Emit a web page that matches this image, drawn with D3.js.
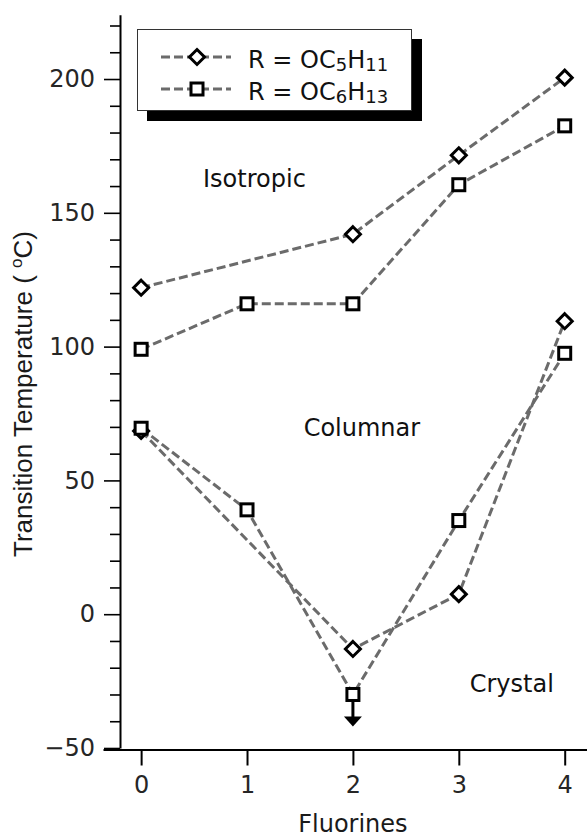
<!DOCTYPE html>
<html><head><meta charset="utf-8">
<script src="https://cdn.jsdelivr.net/npm/d3@7"></script>
<style>body{margin:0;background:#fff;} svg{display:block;}</style>
</head><body>
<script>
// ---- data ----
const fluorinesC5 = [0, 2, 3, 4];
const fluorinesC6 = [0, 1, 2, 3, 4];
const c5Clearing = [122, 142, 171.5, 200.5];
const c5Melting  = [68.5, -13, 7.5, 109.5];
const c6Clearing = [99, 116, 116, 160.5, 182.5];
const c6Melting  = [69.5, 39, -30, 35, 97.5];
const xTicks = [0, 1, 2, 3, 4];
const yMajor = [-50, 0, 50, 100, 150, 200];
const yMinor = [-40,-30,-20,-10,10,20,30,40,60,70,80,90,110,120,130,140,160,170,180,190,210,220];
const regionLabels = [
  {text: "Isotropic", x: 1.07, y: 159.5},
  {text: "Columnar",  x: 2.085, y: 66.5},
  {text: "Crystal",   x: 3.5,  y: -29}
];
const legendItems = [
  {shape: "diamond", main: "R = OC", s1: "5", h: "H", s2: "11"},
  {shape: "square",  main: "R = OC", s1: "6", h: "H", s2: "13"}
];

const W = 587, H = 837;
const svg = d3.select("body").append("svg").attr("width", W).attr("height", H);

const x = d3.scaleLinear().domain([-0.36, 4.22]).range([103, 588]);
const y = d3.scaleLinear().domain([-50, 224]).range([748, 14.8]);
const font = "DejaVu Sans, sans-serif";
const lineColor = "#6b6b6b";

// y axis
const yAx = svg.append("g").attr("transform", "translate(120,0)");
yAx.call(d3.axisLeft(y).tickValues(yMajor).tickSize(16).tickSizeOuter(0).tickPadding(9)
  .tickFormat(d => d < 0 ? "\u2212" + Math.abs(d) : d));
yAx.select(".domain").attr("stroke-width", 2).attr("stroke", "#000");
yAx.selectAll(".tick line").attr("stroke-width", 1.6).attr("stroke", "#000");
yAx.selectAll(".tick text").attr("font-family", font).attr("font-size", 24).attr("fill", "#262626");
const yAxMin = svg.append("g").attr("transform", "translate(120,0)");
yAxMin.call(d3.axisLeft(y).tickValues(yMinor).tickSize(10).tickSizeOuter(0).tickFormat(""));
yAxMin.select(".domain").remove();
yAxMin.selectAll(".tick line").attr("stroke-width", 1.6).attr("stroke", "#000");

// x axis
const xAx = svg.append("g").attr("transform", "translate(0,749.5)");
xAx.call(d3.axisBottom(x).tickValues(xTicks).tickSize(16).tickSizeOuter(0).tickPadding(10)
  .tickFormat(d3.format("d")));
xAx.select(".domain").attr("stroke-width", 2).attr("stroke", "#000");
xAx.selectAll(".tick line").attr("stroke-width", 2).attr("stroke", "#000");
xAx.selectAll(".tick text").attr("font-family", font).attr("font-size", 24).attr("fill", "#262626");

// axis labels
svg.append("text").attr("x", x(2)).attr("y", 832).attr("text-anchor", "middle")
  .attr("font-family", font).attr("font-size", 24).attr("fill", "#1a1a1a").text("Fluorines");
const yl = svg.append("text").attr("transform", "translate(32,394) rotate(-90)")
  .attr("text-anchor", "middle").attr("font-family", "Liberation Sans, Arial, sans-serif")
  .attr("font-size", 26).attr("fill", "#1a1a1a");
yl.append("tspan").text("Transition Temperature ( ");
yl.append("tspan").attr("font-size", 17).attr("dy", -10).text("o");
yl.append("tspan").attr("dy", 10).text("C)");

// region labels
regionLabels.forEach(r => {
  svg.append("text").attr("x", x(r.x)).attr("y", y(r.y)).attr("text-anchor", "middle")
    .attr("font-family", font).attr("font-size", 24).attr("fill", "#111").text(r.text);
});

// lines
const line = d3.line().x(d => x(d[0])).y(d => y(d[1]));
function series(xs, ys) { return xs.map((v, i) => [v, ys[i]]); }
const allSeries = [
  {pts: series(fluorinesC5, c5Clearing), shape: "diamond"},
  {pts: series(fluorinesC5, c5Melting),  shape: "diamond"},
  {pts: series(fluorinesC6, c6Clearing), shape: "square"},
  {pts: series(fluorinesC6, c6Melting),  shape: "square"}
];
allSeries.forEach(s => {
  svg.append("path").attr("d", line(s.pts)).attr("fill", "none")
    .attr("stroke", lineColor).attr("stroke-width", 3).attr("stroke-dasharray", "9,4");
});

// arrow below lowest C6 point (x=2)
const ax = x(2), ay = y(c6Melting[2]);
svg.append("line").attr("x1", ax).attr("x2", ax).attr("y1", ay + 6).attr("y2", ay + 24)
  .attr("stroke", "#000").attr("stroke-width", 3);
svg.append("path").attr("d", `M${ax-9},${ay+22} L${ax+9},${ay+22} L${ax},${ay+32} Z`).attr("fill", "#000");

// markers
function marker(g, shape, cx, cy) {
  if (shape === "diamond") {
    g.append("path").attr("d", `M${cx},${cy-7.5} L${cx+7.5},${cy} L${cx},${cy+7.5} L${cx-7.5},${cy} Z`)
      .attr("fill", "#fff").attr("stroke", "#000").attr("stroke-width", 3);
  } else {
    g.append("rect").attr("x", cx - 6).attr("y", cy - 6).attr("width", 12).attr("height", 12)
      .attr("fill", "#fff").attr("stroke", "#000").attr("stroke-width", 3);
  }
}
const mg = svg.append("g");
allSeries.forEach(s => s.pts.forEach(p => marker(mg, s.shape, x(p[0]), y(p[1]))));

// legend
const lg = svg.append("g");
lg.append("rect").attr("x", 147).attr("y", 39).attr("width", 275).attr("height", 82).attr("fill", "#000");
lg.append("rect").attr("x", 137.5).attr("y", 29.5).attr("width", 274).attr("height", 81)
  .attr("fill", "#fff").attr("stroke", "#333").attr("stroke-width", 1);
legendItems.forEach((it, i) => {
  const ly = 57 + i * 32;
  lg.append("line").attr("x1", 161).attr("x2", 231).attr("y1", ly).attr("y2", ly)
    .attr("stroke", lineColor).attr("stroke-width", 3).attr("stroke-dasharray", "9,4");
  marker(lg, it.shape, 197, ly);
  const t = lg.append("text").attr("x", 248).attr("y", ly + 10.5)
    .attr("font-family", font).attr("font-size", 24).attr("fill", "#111");
  t.append("tspan").text(it.main);
  t.append("tspan").attr("font-size", 18).attr("dy", 3).text(it.s1);
  t.append("tspan").attr("dy", -3).text(it.h);
  t.append("tspan").attr("font-size", 18).attr("dy", 3).text(it.s2);
});
</script>
</body></html>
